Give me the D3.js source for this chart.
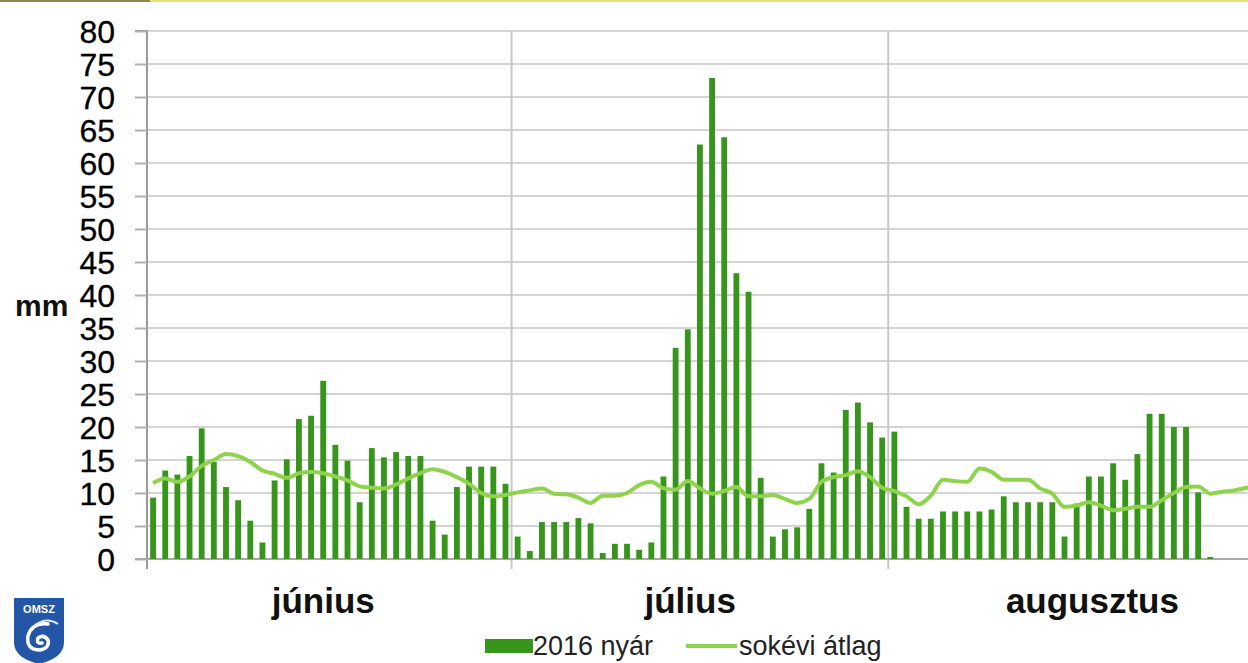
<!DOCTYPE html>
<html>
<head>
<meta charset="utf-8">
<script src="https://cdn.jsdelivr.net/npm/d3@7/dist/d3.min.js"></script>
<style>
  html, body { margin: 0; padding: 0; background: #fff; }
  svg { display: block; }
  text { font-family: "Liberation Sans", Arial, sans-serif; }
</style>
</head>
<body>
<svg id="chart" width="1248" height="663"></svg>
<script>
// ---- data ----
const months = ["június", "július", "augusztus"];
const monthDays = [30, 31, 31];
const yTicks = [0, 5, 10, 15, 20, 25, 30, 35, 40, 45, 50, 55, 60, 65, 70, 75, 80];
const seriesNames = ["2016 nyár", "sokévi átlag"];

const rainJune = [9.3, 13.4, 12.8, 15.6, 19.8, 14.7, 10.9, 8.9, 5.8, 2.5, 11.9, 15.1, 21.2, 21.7, 27.0, 17.3, 14.9, 8.6, 16.8, 15.4, 16.2, 15.6, 15.6, 5.8, 3.7, 10.9, 14.0, 14.0, 14.0, 11.4];
const rainJuly = [3.4, 1.2, 5.6, 5.6, 5.6, 6.2, 5.4, 0.9, 2.3, 2.3, 1.4, 2.5, 12.5, 32.0, 34.8, 62.8, 72.9, 63.9, 43.3, 40.5, 12.3, 3.4, 4.5, 4.8, 7.6, 14.5, 13.1, 22.6, 23.7, 20.7, 18.4];
const rainAug = [19.3, 7.9, 6.1, 6.1, 7.2, 7.2, 7.2, 7.2, 7.5, 9.5, 8.6, 8.6, 8.6, 8.6, 3.4, 8.4, 12.5, 12.5, 14.5, 12.0, 15.9, 22.0, 22.0, 20.0, 20.0, 10.1, 0.3, 0, 0, 0, 0];

const avgJune = [11.5, 12.2, 11.7, 12.5, 14.1, 15.0, 15.9, 15.6, 14.7, 13.4, 12.9, 12.3, 13.0, 13.2, 13.0, 12.5, 11.9, 11.0, 10.8, 10.7, 11.3, 12.2, 13.0, 13.6, 13.2, 12.4, 11.4, 10.0, 9.5, 9.7];
const avgJuly = [10.1, 10.4, 10.7, 9.9, 9.8, 9.3, 8.5, 9.6, 9.6, 10.0, 11.2, 11.7, 10.7, 10.5, 11.8, 10.7, 9.9, 10.3, 10.9, 9.5, 9.5, 9.7, 9.1, 8.5, 9.1, 11.7, 12.4, 12.7, 13.3, 12.4, 10.8];
const avgAug = [10.3, 9.5, 8.3, 9.6, 12.0, 11.8, 11.7, 13.7, 13.2, 12.0, 12.0, 12.0, 10.7, 9.9, 7.9, 8.1, 8.6, 8.1, 7.4, 7.6, 7.9, 7.9, 8.9, 10.0, 10.9, 11.0, 9.9, 10.2, 10.4, 10.8, 11.0];

// month label anchor (day index within month, 0-based fractional)
const monthLabelDay = [14.5, 14.7, 16.8];

// ---- build ----
const rain = [...rainJune, ...rainJuly, ...rainAug];
const avg = [...avgJune, ...avgJuly, ...avgAug];
const nDays = rain.length;
const monthStart = [0, 30, 61];

const svg = d3.select("#chart");
const W = 1248, H = 663;

const plot = { left: 147, right: 1265, top: 31, bottom: 559 };

const x = d3.scaleBand().domain(d3.range(nDays)).range([plot.left, plot.right]).paddingInner(0.52).paddingOuter(0.26);
const xLin = d3.scaleLinear().domain([0, nDays]).range([plot.left, plot.right]);
const y = d3.scaleLinear().domain([0, 80]).range([plot.bottom, plot.top]);

// top decorative border
svg.append("rect").attr("x", 0).attr("y", 0).attr("width", W).attr("height", 2).attr("fill", "#e8e27a");
svg.append("rect").attr("x", 0).attr("y", 0).attr("width", 150).attr("height", 2).attr("fill", "#8a8a50");

// horizontal gridlines
svg.append("g").selectAll("line").data(yTicks.filter(d => d > 0)).join("line")
  .attr("x1", plot.left).attr("x2", W)
  .attr("y1", d => y(d)).attr("y2", d => y(d))
  .attr("stroke", "#d4d4d4").attr("stroke-width", 2);

// month dividers
svg.append("g").selectAll("line").data(monthStart.slice(1)).join("line")
  .attr("x1", d => xLin(d)).attr("x2", d => xLin(d))
  .attr("y1", plot.top).attr("y2", plot.bottom + 10)
  .attr("stroke", "#c8c8c8").attr("stroke-width", 2);

// y axis
const yAxis = d3.axisLeft(y).tickValues(yTicks).tickSize(12).tickPadding(8);
const gy = svg.append("g").attr("transform", `translate(${plot.left},0)`).call(yAxis);
gy.attr("font-family", null);
gy.select(".domain").attr("stroke", "#9a9a9a").attr("stroke-width", 2).attr("d", `M-12,${plot.top}H0V${plot.bottom + 10}`);
gy.selectAll(".tick line").attr("stroke", "#b0b0b0").attr("stroke-width", 2);
gy.selectAll(".tick text").attr("font-size", 32).attr("fill", "#000")
  .attr("font-family", "'Liberation Sans', Arial, sans-serif").attr("dy", "0.36em")
  .attr("x", -32).attr("stroke", "#000").attr("stroke-width", 0.3);

// x axis baseline
svg.append("line").attr("x1", plot.left - 12).attr("x2", W)
  .attr("y1", plot.bottom).attr("y2", plot.bottom)
  .attr("stroke", "#a8a8a8").attr("stroke-width", 2);

// bars
svg.append("g").selectAll("rect").data(rain).join("rect")
  .attr("x", (d, i) => x(i))
  .attr("width", x.bandwidth())
  .attr("y", d => y(d))
  .attr("height", d => plot.bottom - y(d))
  .attr("fill", "#37951c");

// average line
const line = d3.line()
  .x((d, i) => x(i) + x.bandwidth() / 2)
  .y(d => y(d))
  .curve(d3.curveMonotoneX);
svg.append("path").datum(avg).attr("d", line)
  .attr("fill", "none").attr("stroke", "#8ed34c").attr("stroke-width", 4).attr("stroke-linejoin", "round");

// "mm" label
svg.append("text").attr("x", 15).attr("y", 316).text("mm")
  .attr("font-size", 30).attr("font-weight", "bold").attr("fill", "#111");

// month labels
svg.append("g").selectAll("text").data(months).join("text")
  .attr("x", (d, i) => xLin(monthStart[i] + monthLabelDay[i]))
  .attr("y", 613)
  .attr("text-anchor", "middle")
  .attr("font-size", 35).attr("font-weight", "bold").attr("fill", "#111")
  .text(d => d);

// legend
const lg = svg.append("g");
lg.append("rect").attr("x", 485).attr("y", 639).attr("width", 48).attr("height", 14).attr("fill", "#37951c");
lg.append("text").attr("x", 533).attr("y", 655).attr("font-size", 27).attr("fill", "#222").text(seriesNames[0]);
lg.append("line").attr("x1", 686).attr("x2", 737).attr("y1", 646).attr("y2", 646)
  .attr("stroke", "#8ed34c").attr("stroke-width", 4);
lg.append("text").attr("x", 739).attr("y", 655).attr("font-size", 27).attr("fill", "#222").text(seriesNames[1]);

// OMSZ logo
const logo = svg.append("g").attr("transform", "translate(14,598)");
logo.append("path").attr("d", "M0,0 H50 V44 Q50,60 25,66 Q0,60 0,44 Z").attr("fill", "#2456a8");
logo.append("text").attr("x", 25).attr("y", 15).attr("text-anchor", "middle")
  .attr("font-size", 11).attr("font-weight", "bold").attr("fill", "#fff").text("OMSZ");
logo.append("path").attr("d", "M34,26 Q18,24 14,38 Q12,52 26,52 Q36,50 34,42 Q30,36 24,40 Q22,46 28,45")
  .attr("fill", "none").attr("stroke", "#fff").attr("stroke-width", 3.5).attr("stroke-linecap", "round");
logo.append("path").attr("d", "M20,28 Q32,18 44,26").attr("fill", "none").attr("stroke", "#dfe8f7").attr("stroke-width", 2);
</script>
</body>
</html>
